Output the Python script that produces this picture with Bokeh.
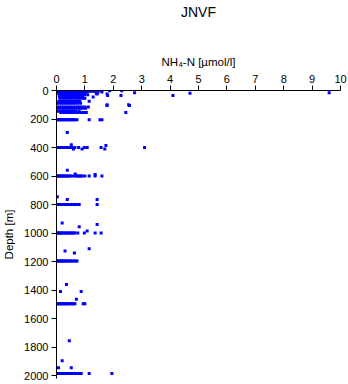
from bokeh.plotting import figure
from bokeh.models import Range1d, FixedTicker, ColumnDataSource, LinearAxis
from bokeh.embed import file_html
from bokeh.resources import INLINE

station = "JNVF"
x_label = "NH\u2084-N [\u00b5mol/l]"
y_label = "Depth [m]"
x_ticks = [0, 1, 2, 3, 4, 5, 6, 7, 8, 9, 10]
y_ticks = [0, 200, 400, 600, 800, 1000, 1200, 1400, 1600, 1800, 2000]

# sample depth levels [m]
levels = [2, 5, 10, 15, 20, 25, 30, 35, 45, 55, 75, 90, 100, 105, 115, 125,
          145, 155, 205, 295, 380, 385, 400, 410, 560, 585, 590, 600, 745,
          765, 800, 930, 940, 955, 985, 1000, 1110, 1125, 1140, 1195, 1360,
          1410, 1465, 1495, 1755, 1895, 1945, 1985]
# NH4-N values [umol/l] measured at each level
nh4_at_level = [
    [0.02, 0.1, 0.18, 0.25, 0.32, 0.4, 0.48, 0.55, 0.62, 0.7, 0.78, 0.85, 0.92, 1.0, 1.08, 1.15, 1.25, 1.35, 1.5, 1.87, 2.3],
    [0.05, 0.12, 0.2, 0.28, 0.35, 0.42, 0.5, 0.58, 0.65, 0.72, 0.8, 0.88, 0.95, 1.02, 1.1, 1.2, 1.3],
    [0.03, 0.1, 0.17, 0.24, 0.31, 0.38, 0.45, 0.52, 0.6, 0.67, 0.74, 0.82, 0.9, 0.98, 1.05, 1.6],
    [0.05, 0.14, 0.22, 0.3, 0.38, 0.46, 0.54, 0.62, 0.7, 0.78, 0.86, 0.94, 1.0, 1.45, 2.75, 9.6],
    [0.08, 0.16, 0.24, 0.32, 0.4, 0.48, 0.56, 0.64, 0.72, 0.8, 0.88, 0.96, 1.4, 4.7],
    [0.1, 0.18, 0.26, 0.34, 0.42, 0.5, 0.58, 0.66, 0.74, 0.82, 0.9, 1.43, 1.78],
    [0.1, 0.2, 0.3, 0.4, 0.5, 0.6, 0.7, 0.8, 0.9, 1.0, 1.1],
    [0.12, 0.22, 0.32, 0.42, 0.52, 0.62, 0.72, 0.82, 0.92, 1.8, 2.27, 4.1],
    [0.1, 0.2, 0.3, 0.4, 0.5, 0.6, 0.7, 0.8, 0.9, 1.29],
    [0.12, 0.22, 0.32, 0.42, 0.52, 0.62, 0.72, 0.82, 0.92, 1.0],
    [0.08, 0.15, 0.22, 0.3, 0.38, 0.45, 0.52, 0.6, 0.68, 0.75, 0.82, 1.15],
    [0.02, 0.1, 0.18, 0.26, 0.34, 0.42, 0.5, 0.58, 0.66, 0.75, 0.85],
    [1.78, 2.54],
    [1.78, 2.57],
    [0.02, 0.1, 0.18, 0.26, 0.34, 0.42, 0.5, 0.58, 0.66, 0.74, 0.82, 0.9, 1.0, 1.12],
    [0.03, 0.12, 0.2, 0.28, 0.36, 0.44, 0.52, 0.6, 0.68, 0.76, 0.84, 0.92, 1.02],
    [0.05, 0.13, 0.21, 0.29, 0.37, 0.45, 0.53, 0.6, 0.68, 0.8],
    [0.15, 0.25, 0.35, 0.45, 0.55, 0.65, 0.75, 0.85, 0.95, 1.05, 2.44],
    [0.0, 0.04, 0.08, 0.12, 0.16, 0.2, 0.25, 0.3, 0.35, 0.4, 0.45, 0.5, 0.55, 0.6, 0.65, 0.72, 1.15, 1.53, 1.6],
    [0.38],
    [0.52],
    [1.74],
    [0.0, 0.03, 0.06, 0.1, 0.14, 0.18, 0.22, 0.26, 0.3, 0.34, 0.38, 0.42, 0.48, 0.55, 0.65, 0.78, 0.98, 1.08, 1.57, 3.1],
    [0.6, 0.9, 1.7],
    [0.38],
    [0.66],
    [1.36],
    [0.0, 0.03, 0.06, 0.1, 0.14, 0.18, 0.22, 0.26, 0.3, 0.35, 0.4, 0.45, 0.5, 0.6, 0.7, 0.75, 0.8, 0.85, 0.9, 1.0, 1.15, 1.36, 1.6],
    [0.03],
    [0.38, 1.43],
    [0.0, 0.04, 0.08, 0.12, 0.16, 0.2, 0.25, 0.3, 0.35, 0.4, 0.45, 0.5, 0.55, 0.6, 0.65, 0.7, 0.8, 1.43],
    [0.2],
    [1.43],
    [0.8],
    [1.08],
    [0.0, 0.04, 0.08, 0.12, 0.16, 0.2, 0.25, 0.3, 0.35, 0.4, 0.45, 0.5, 0.55, 0.6, 0.65, 0.75, 0.98, 1.36, 1.57],
    [1.15],
    [0.3],
    [0.63],
    [0.0, 0.03, 0.06, 0.1, 0.14, 0.18, 0.22, 0.26, 0.3, 0.35, 0.4, 0.45, 0.5, 0.55, 0.62, 0.68, 0.72],
    [0.35],
    [0.14, 0.87],
    [0.7],
    [0.0, 0.04, 0.08, 0.12, 0.16, 0.2, 0.24, 0.28, 0.32, 0.36, 0.4, 0.45, 0.5, 0.55, 0.6, 0.65, 0.94, 1.0],
    [0.45],
    [0.2],
    [0.07, 0.52],
    [0.0, 0.04, 0.08, 0.12, 0.16, 0.2, 0.25, 0.3, 0.35, 0.4, 0.45, 0.5, 0.55, 0.6, 0.7, 0.8, 0.87, 1.15, 1.95],
]

depth_m = []
nh4 = []
for d, vals in zip(levels, nh4_at_level):
    for v in vals:
        depth_m.append(d)
        nh4.append(v)

source = ColumnDataSource(data=dict(x=nh4, y=depth_m))

FONT = "Liberation Sans"

p = figure(width=348, height=384, output_backend="svg", toolbar_location=None,
           x_axis_location="above", x_range=Range1d(0, 10),
           y_range=Range1d(2020, 0),
           min_border_left=53, min_border_right=8, min_border_bottom=6,
           min_border_top=0)

p.scatter("x", "y", source=source, marker="square", size=3,
          fill_color="#0000ff", line_color=None)

p.xgrid.visible = False
p.ygrid.visible = False
p.outline_line_color = None
p.background_fill_color = "white"
p.border_fill_color = "white"

for ax in (p.xaxis[0], p.yaxis[0]):
    ax.major_label_text_font = FONT
    ax.major_label_text_font_size = "11px"
    ax.major_label_text_color = "black"
    ax.axis_label_text_font = FONT
    ax.axis_label_text_font_size = "11.5px"
    ax.axis_label_text_font_style = "normal"
    ax.axis_label_text_color = "black"
    ax.axis_line_color = "black"
    ax.major_tick_line_color = "black"
    ax.major_tick_out = 5
    ax.major_tick_in = 0
    ax.minor_tick_line_color = None
    ax.major_label_standoff = 3

p.xaxis[0].ticker = FixedTicker(ticks=x_ticks)
p.yaxis[0].ticker = FixedTicker(ticks=y_ticks)
p.xaxis[0].axis_label = x_label
p.yaxis[0].axis_label = y_label
p.xaxis[0].axis_label_standoff = 4
p.yaxis[0].axis_label_standoff = 6

# chart title, drawn as the label of a bare outer axis so it sits at the top
title_axis = LinearAxis(ticker=FixedTicker(ticks=[]), axis_label=station,
                        axis_line_color=None, major_tick_line_color=None,
                        minor_tick_line_color=None,
                        axis_label_text_font=FONT,
                        axis_label_text_font_size="14px",
                        axis_label_text_font_style="normal",
                        axis_label_text_color="black",
                        axis_label_standoff=33)
p.add_layout(title_axis, "above")

open("out.html", "w").write(file_html(p, INLINE))
